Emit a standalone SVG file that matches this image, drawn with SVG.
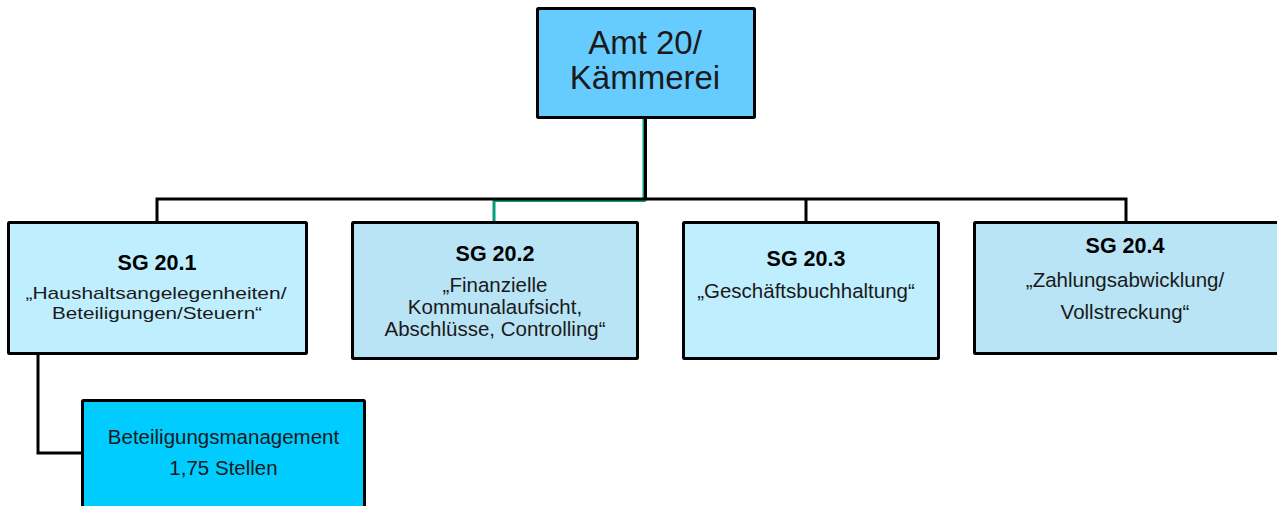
<svg xmlns="http://www.w3.org/2000/svg" width="1277" height="506" viewBox="0 0 1277 506">
<style>
.box{stroke:#000;stroke-width:3;stroke-linejoin:round}
.c1{fill:#BFEEFF}
.c2{fill:#B8E4F6}
.t{font-family:"Liberation Sans",Arial,sans-serif;text-anchor:middle;fill:#1a1a1a}
.h{font-size:21.5px;font-weight:bold;fill:#000}
.s{font-size:20.5px}
.n{font-size:17px}
.conn{fill:none;stroke:#000;stroke-width:3}
</style>
<rect width="1277" height="506" fill="#fff"/>
<g id="connectors">
<path d="M644,118 V200.5 H494 V222" fill="none" stroke="#00A07A" stroke-width="3"/>
<path class="conn" d="M645.5,118 V199 H157 V222"/>
<path class="conn" d="M645.5,199 H1126 V222"/>
<path class="conn" d="M806,199 V222"/>
<path class="conn" d="M38,354 V453 H82"/>
</g>
<g id="amt20">
<rect class="box" x="537.5" y="8.5" width="217" height="109" fill="#66CCFF" rx="1"/>
<text class="t" x="645" y="54" font-size="33">Amt 20/</text>
<text class="t" x="645" y="89" font-size="33">Kämmerei</text>
</g>
<g id="sg201">
<rect class="box c1" x="8.5" y="222.5" width="298" height="131" rx="1"/>
<text class="t h" x="157" y="270">SG 20.1</text>
<text class="t n" x="156" y="299" textLength="261" lengthAdjust="spacingAndGlyphs">„Haushaltsangelegenheiten/</text>
<text class="t n" x="157" y="319" textLength="210" lengthAdjust="spacingAndGlyphs">Beteiligungen/Steuern“</text>
</g>
<g id="sg202">
<rect class="box c2" x="352.5" y="222.5" width="285" height="136" rx="1"/>
<text class="t h" x="495" y="261">SG 20.2</text>
<text class="t s" x="495" y="292">„Finanzielle</text>
<text class="t s" x="495" y="314">Kommunalaufsicht,</text>
<text class="t s" x="495" y="336">Abschlüsse, Controlling“</text>
</g>
<g id="sg203">
<rect class="box c1" x="683.5" y="222.5" width="255" height="136" rx="1"/>
<text class="t h" x="806" y="266">SG 20.3</text>
<text class="t s" x="806" y="298">„Geschäftsbuchhaltung“</text>
</g>
<g id="sg204">
<rect class="box c2" x="974.5" y="222.5" width="310" height="131" rx="1"/>
<text class="t h" x="1125" y="253">SG 20.4</text>
<text class="t s" x="1125" y="287">„Zahlungsabwicklung/</text>
<text class="t s" x="1125" y="319">Vollstreckung“</text>
</g>
<g id="beteiligungsmanagement">
<rect class="box" x="82.5" y="400.5" width="282" height="115" fill="#00CCFF" rx="1"/>
<text class="t s" x="223.5" y="444">Beteiligungsmanagement</text>
<text class="t s" x="223.5" y="475">1,75 Stellen</text>
</g>
</svg>
